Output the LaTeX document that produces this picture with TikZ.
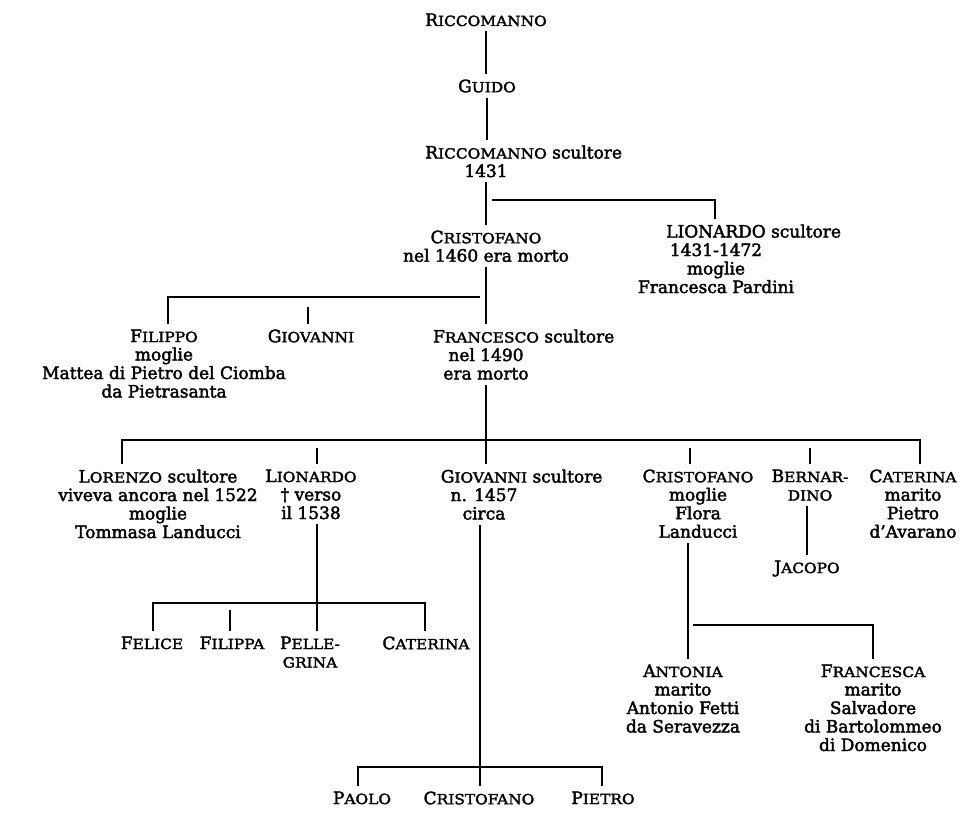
\documentclass[tikz,border=0pt]{standalone}
\usepackage{fontspec}
\setmainfont{DejaVu Serif}[FakeBold=2.2]
\newcommand\scsz{\fontsize{14}{18.5}\selectfont\addfontfeature{FakeStretch=1.1}}
\newcommand\sca[2]{#1{\scsz #2}}
\tikzset{
  person/.style={anchor=north, align=center, inner xsep=1pt, inner ysep=5pt,
    font=\fontsize{17}{18.5}\selectfont},
  tie/.style={line width=1.3pt}
}
\begin{document}
\begin{tikzpicture}[x=1pt,y=-1pt]
\fill[white] (0,0) rectangle (970,815);
\useasboundingbox (0,0) rectangle (970,815);
% nodes: y = first baseline - 17.6
\node[person] (r1) at (486,8.4) {\sca{R}{ICCOMANNO}};
\node[person] (guido) at (487,74.4) {\sca{G}{UIDO}};
\node[person] (r2) at (486,140.4) {\sca{R}{ICCOMANNO}\rlap{ scultore}\\1431};
\node[person] (lion1) at (716,219.4) {LIONARDO\rlap{ scultore}\\1431-1472\\moglie\\Francesca Pardini};
\node[person] (cris1) at (486,225.4) {\sca{C}{RISTOFANO}\\nel 1460 era morto};
\node[person] (filippo) at (164,324.4) {\sca{F}{ILIPPO}\\moglie\\Mattea di Pietro del Ciomba\\da Pietrasanta};
\node[person] (giov1) at (311,324.4) {\sca{G}{IOVANNI}};
\node[person] (franc) at (486,324.4) {\sca{F}{RANCESCO}\rlap{ scultore}\\nel 1490\\era morto};
\node[person] (lorenzo) at (158,464.4) {\sca{L}{ORENZO} scultore\\viveva ancora nel 1522\\moglie\\Tommasa Landucci};
\node[person] (lion2) at (311,464.4) {\sca{L}{IONARDO}\\† verso\\il 1538};
\node[person] (giov2) at (484,464.4) {\sca{G}{IOVANNI}\rlap{ scultore}\\n. 1457\\circa};
\node[person] (cris2) at (698,464.4) {\sca{C}{RISTOFANO}\\moglie\\Flora\\Landucci};
\node[person] (bern) at (810,464.4) {\sca{B}{ERNAR-}\\\sca{}{DINO}};
\node[person] (cat1) at (913,464.4) {\sca{C}{ATERINA}\\marito\\Pietro\\d'Avarano};
\node[person] (jacopo) at (807,555.4) {\sca{J}{ACOPO}};
\node[person] (felice) at (152,631.4) {\sca{F}{ELICE}};
\node[person] (filippa) at (232,631.4) {\sca{F}{ILIPPA}};
\node[person] (pelle) at (310,631.4) {\sca{P}{ELLE-}\\\sca{}{GRINA}};
\node[person] (cat2) at (426,631.4) {\sca{C}{ATERINA}};
\node[person] (antonia) at (683,659.4) {\sca{A}{NTONIA}\\marito\\Antonio Fetti\\da Seravezza};
\node[person] (francesca) at (873,659.4) {\sca{F}{RANCESCA}\\marito\\Salvadore\\di Bartolommeo\\di Domenico};
\node[person] (paolo) at (362,786.4) {\sca{P}{AOLO}};
\node[person] (cris3) at (479,786.4) {\sca{C}{RISTOFANO}};
\node[person] (pietro) at (603,786.4) {\sca{P}{IETRO}};
% bar coordinates
\coordinate (b1s) at (492,200);
\coordinate (b1e) at (715,200);
\coordinate (b2l) at (168,297);
\coordinate (b2r) at (480,297);
\coordinate (b2g) at (308,307);
\coordinate (b3l) at (122,440);
\coordinate (b3r) at (920,440);
\coordinate (b3a) at (317,448);
\coordinate (b3b) at (690,448);
\coordinate (b3c) at (810,448);
\coordinate (b4m) at (317,603);
\coordinate (b4l) at (153,603);
\coordinate (b4r) at (425,603);
\coordinate (b4f) at (230,610);
\coordinate (b5m) at (480,767);
\coordinate (b5l) at (358,767);
\coordinate (b5r) at (602,767);
\coordinate (b6m) at (688,625);
\coordinate (b6a) at (693,625);
\coordinate (b6r) at (873,625);
% connectors
\draw[tie] (r1.south) -- (r1.south |- guido.north);
\draw[tie] (guido.south) -- (guido.south |- r2.north);
\draw[tie] (r2.south) -- (r2.south |- cris1.north);
\draw[tie] (b1s) -- (b1e) -- (b1e |- lion1.north);
\draw[tie] (cris1.south) -- (cris1.south |- franc.north);
\draw[tie] (b2r) -- (b2l) -- (b2l |- filippo.north);
\draw[tie] (b2g) -- (b2g |- giov1.north);
\draw[tie] (franc.south) -- (franc.south |- giov2.north);
\draw[tie] (b3l |- lorenzo.north) -- (b3l) -- (b3r) -- (b3r |- cat1.north);
\draw[tie] (b3a) -- (b3a |- lion2.north);
\draw[tie] (b3b) -- (b3b |- cris2.north);
\draw[tie] (b3c) -- (b3c |- bern.north);
\draw[tie] (bern.south -| jacopo.north) -- (jacopo.north);
\draw[tie] (b4m |- lion2.south) -- (b4m |- pelle.north);
\draw[tie] (b4l |- felice.north) -- (b4l) -- (b4r) -- (b4r |- cat2.north);
\draw[tie] (b4f) -- (b4f |- filippa.north);
\draw[tie] (b5m |- giov2.south) -- (b5m |- cris3.north);
\draw[tie] (b5l |- paolo.north) -- (b5l) -- (b5r) -- (b5r |- pietro.north);
\draw[tie] (b6m |- cris2.south) -- (b6m |- antonia.north);
\draw[tie] (b6a) -- (b6r) -- (b6r |- francesca.north);
\end{tikzpicture}
\end{document}
